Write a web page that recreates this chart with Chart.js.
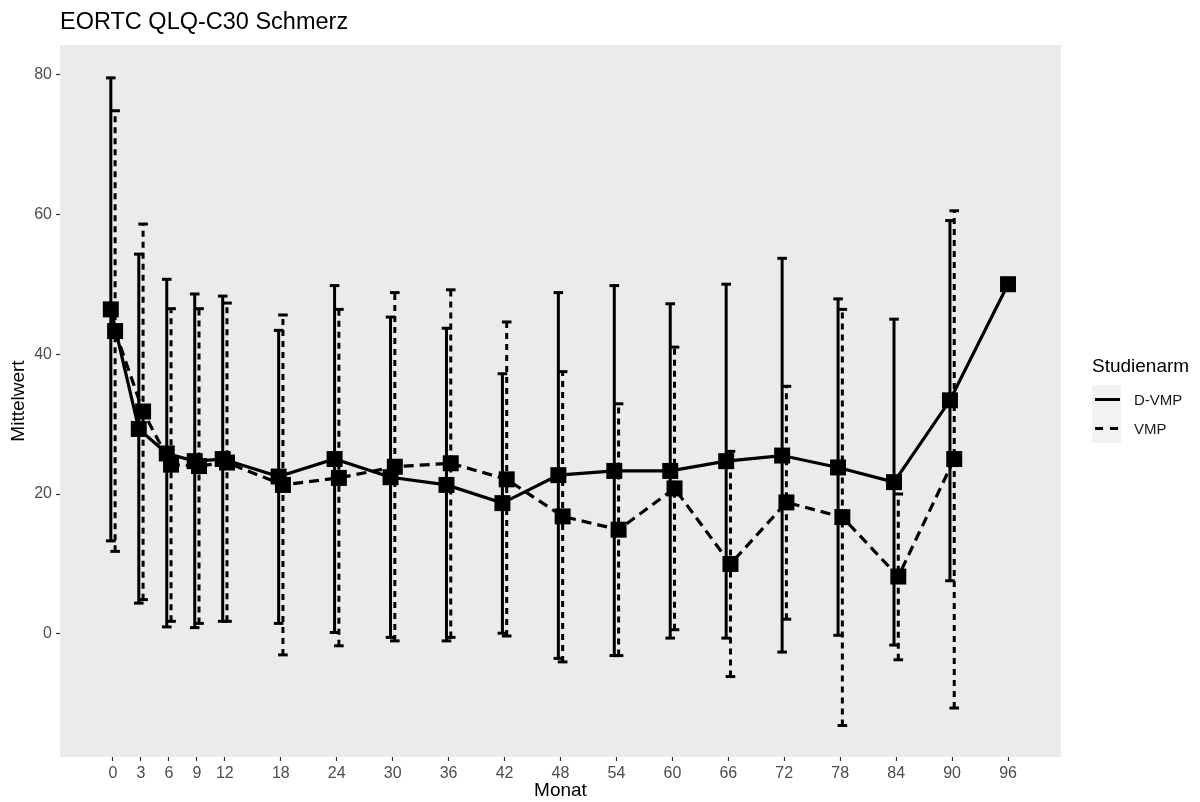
<!DOCTYPE html>
<html>
<head>
<meta charset="utf-8">
<title>EORTC QLQ-C30 Schmerz</title>
<script src="https://cdn.jsdelivr.net/npm/chart.js@4.4.0/dist/chart.umd.min.js"></script>
<style>
    body { margin: 0; background: #fff; }
    #wrap { position: relative; width: 1200px; height: 802px; }
    #legend { position: absolute; left: 1092px; top: 355px; font-family: "Liberation Sans", Arial, sans-serif; }
    #legend .title { font-size: 19px; line-height: 22px; height: 30px; color: #000; }
    #legend .row { display: flex; align-items: center; height: 29px; }
    #legend .key { width: 29px; height: 29px; background: #f2f2f2; }
    #legend .lbl { margin-left: 13px; font-size: 15px; color: #1a1a1a; }
</style>
</head>
<body>
<div id="wrap">
    <canvas id="myChart" width="1200" height="802"></canvas>
    <div id="legend">
        <div class="title">Studienarm</div>
        <div class="row">
            <svg class="key" width="29" height="29"><line x1="3" y1="14.5" x2="28" y2="14.5" stroke="#000" stroke-width="3"/></svg>
            <span class="lbl">D-VMP</span>
        </div>
        <div class="row">
            <svg class="key" width="29" height="29"><line x1="3" y1="14.5" x2="28" y2="14.5" stroke="#000" stroke-width="3" stroke-dasharray="8 7"/></svg>
            <span class="lbl">VMP</span>
        </div>
    </div>
</div>
<script>
const months = [0, 3, 6, 9, 12, 18, 24, 30, 36, 42, 48, 54, 60, 66, 72, 78, 84, 90, 96];
const yTicks = [0, 20, 40, 60, 80];

// D-VMP: Mittelwert und Fehlerbalken
const dvmpMean = [46.4, 29.3, 25.8, 24.7, 25.0, 22.5, 25.0, 22.4, 21.3, 18.7, 22.7, 23.3, 23.3, 24.7, 25.5, 23.8, 21.7, 33.4, 50.0];
const dvmpLow = [13.3, 4.4, 1.0, 0.9, 1.8, 1.5, 0.2, -0.5, -1.0, 0.1, -3.5, -3.1, -0.6, -0.6, -2.6, -0.2, -1.6, 7.6, null];
const dvmpHigh = [79.5, 54.3, 50.7, 48.6, 48.3, 43.4, 49.8, 45.3, 43.7, 37.2, 48.8, 49.8, 47.2, 50.0, 53.7, 47.9, 45.0, 59.1, null];

// VMP
const vmpMean = [43.3, 31.8, 24.2, 24.0, 24.5, 21.3, 22.3, 23.9, 24.4, 22.1, 16.8, 14.9, 20.8, 10.0, 18.8, 16.7, 8.2, 25.0, null];
const vmpLow = [11.8, 4.9, 1.8, 1.5, 1.8, -3.0, -1.7, -1.0, -0.5, -0.3, -4.0, -3.1, 0.6, -6.1, 2.1, -13.1, -3.7, -10.6, null];
const vmpHigh = [74.8, 58.6, 46.5, 46.5, 47.3, 45.6, 46.4, 48.8, 49.2, 44.6, 37.5, 32.9, 41.0, 26.1, 35.4, 46.4, 20.0, 60.5, null];

const dodge = 0.23;
const font = 'Liberation Sans, Arial, sans-serif';

function xPos(i, side) {
    // only one group at a month -> no dodge
    return vmpMean[i] === null ? months[i] : months[i] + side * dodge;
}

function meanPoints(values, side) {
    const out = [];
    values.forEach((v, i) => {
        if (v !== null) out.push({ x: xPos(i, side), y: v });
    });
    return out;
}

function errorPoints(low, high, side) {
    const out = [];
    low.forEach((v, i) => {
        if (v === null) return;
        const x = xPos(i, side);
        out.push({ x: x, y: v }, { x: x, y: high[i] }, { x: x, y: null });
    });
    return out;
}

const panelBg = {
    id: 'panelBg',
    beforeDraw(chart) {
        const { ctx, chartArea: a } = chart;
        ctx.save();
        ctx.fillStyle = '#ebebeb';
        ctx.fillRect(a.left, a.top, a.right - a.left, a.bottom - a.top);
        ctx.restore();
    }
};

const meanStyle = {
    borderColor: '#000',
    backgroundColor: '#000',
    borderWidth: 3.2,
    pointStyle: 'rect',
    pointRadius: 11.3,
    pointBackgroundColor: '#000',
    pointBorderColor: '#000',
    pointBorderWidth: 0,
    tension: 0
};

const barStyle = {
    borderColor: '#000',
    backgroundColor: '#000',
    borderWidth: 3,
    pointStyle: 'line',
    pointRadius: 4.8,
    pointBorderColor: '#000',
    pointBorderWidth: 3,
    spanGaps: false,
    tension: 0
};

let ctx = document.getElementById('myChart').getContext('2d');

let myChart = new Chart(ctx, {
    type: 'line',
    data: {
        datasets: [
            Object.assign({ label: 'D-VMP', data: meanPoints(dvmpMean, -1) }, meanStyle),
            Object.assign({ label: 'VMP', data: meanPoints(vmpMean, 1), borderDash: [10, 6] }, meanStyle),
            Object.assign({ label: 'D-VMP SD', data: errorPoints(dvmpLow, dvmpHigh, -1) }, barStyle),
            Object.assign({ label: 'VMP SD', data: errorPoints(vmpLow, vmpHigh, 1), borderDash: [6, 5] }, barStyle)
        ]
    },
    options: {
        responsive: false,
        animation: false,
        layout: { padding: { right: 139 } },
        plugins: {
            legend: { display: false },
            tooltip: { enabled: false },
            title: {
                display: true,
                text: 'EORTC QLQ-C30 Schmerz',
                align: 'start',
                fullSize: false,
                color: '#000',
                font: { family: font, size: 23.5, weight: 'normal' },
                padding: { top: 8, bottom: 8.8 }
            }
        },
        scales: {
            x: {
                type: 'linear',
                min: -5.68,
                max: 101.68,
                afterBuildTicks: (scale) => { scale.ticks = months.map(v => ({ value: v })); },
                afterFit: (scale) => { scale.height = 45; },
                border: { display: false },
                grid: { drawOnChartArea: false, drawTicks: true, tickLength: 4, tickColor: '#333', tickWidth: 1.2 },
                ticks: { color: '#4d4d4d', font: { family: font, size: 16 }, padding: 2.5, maxRotation: 0, autoSkip: false },
                title: { display: true, text: 'Monat', color: '#000', font: { family: font, size: 19 }, padding: { top: 0, bottom: 0 } }
            },
            y: {
                type: 'linear',
                min: -17.6,
                max: 84.2,
                afterBuildTicks: (scale) => { scale.ticks = yTicks.map(v => ({ value: v })); },
                afterFit: (scale) => { scale.width = 60; },
                border: { display: false },
                grid: { drawOnChartArea: false, drawTicks: true, tickLength: 4, tickColor: '#333', tickWidth: 1.2 },
                ticks: { color: '#4d4d4d', font: { family: font, size: 16 }, padding: 4 },
                title: { display: true, text: 'Mittelwert', color: '#000', font: { family: font, size: 19 }, padding: { top: 7, bottom: 0 } }
            }
        }
    },
    plugins: [panelBg]
});
</script>
</body>
</html>
